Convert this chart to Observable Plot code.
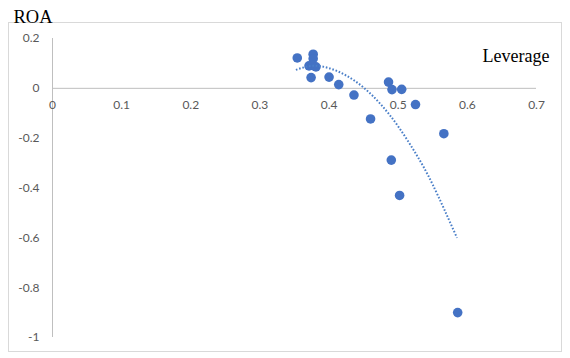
<!DOCTYPE html>
<html><head><meta charset="utf-8">
<script src="https://cdn.jsdelivr.net/npm/d3@7"></script>
<script src="https://cdn.jsdelivr.net/npm/@observablehq/plot@0.6"></script>
<style>body{margin:0;background:#fff}</style>
</head><body><div id="chart"></div>
<script>
// Scatter data: Leverage (x) vs ROA (y)
const leverage = [0.354,0.377,0.377,0.371,0.376,0.381,0.374,0.400,0.414,0.436,0.460,0.486,0.491,0.505,0.525,0.490,0.502,0.566,0.586];
const roa      = [0.122,0.137,0.119,0.090,0.092,0.086,0.043,0.045,0.015,-0.027,-0.123,0.025,-0.005,-0.004,-0.065,-0.288,-0.430,-0.182,-0.900];
// Polynomial trendline
const trendLeverage = [0.352,0.375,0.400,0.425,0.450,0.475,0.500,0.525,0.550,0.585];
const trendROA      = [0.074,0.090,0.081,0.051,0.003,-0.065,-0.153,-0.260,-0.387,-0.600];
// Tick labels
const xTicks = [0,0.1,0.2,0.3,0.4,0.5,0.6,0.7];
const xTickLabels = ["0","0.1","0.2","0.3","0.4","0.5","0.6","0.7"];
const yTicks = [0.2,0,-0.2,-0.4,-0.6,-0.8,-1];
const yTickLabels = ["0.2","0","-0.2","-0.4","-0.6","-0.8","-1"];
const yTitle = "ROA";
const xTitle = "Leverage";

const points = leverage.map((x,i)=>({x, y: roa[i]}));
const trend = trendLeverage.map((x,i)=>({x, y: trendROA[i]}));
const blue = "#4472C4";
const axisGray = "#bfbfbf";
const labelGray = "#595959";
const tickFont = "Lato, 'Liberation Sans', sans-serif";

const svg = Plot.plot({
  width: 570, height: 358,
  marginLeft: 52, marginRight: 34, marginTop: 38, marginBottom: 21,
  x: {domain: [0, 0.7], axis: null},
  y: {domain: [-1, 0.2], axis: null},
  style: {background: "#fff", overflow: "visible"},
  marks: [
    Plot.ruleY([0], {x1: xTicks[0], x2: xTicks[xTicks.length-1], stroke: axisGray, strokeWidth: 1}),
    Plot.ruleX([0], {y1: yTicks[yTicks.length-1], y2: yTicks[0], stroke: axisGray, strokeWidth: 1}),
    Plot.text(xTicks, {x: d => d, y: () => 0, text: (d,i) => xTickLabels[i], dy: 17, fill: labelGray, fontSize: 12, fontFamily: tickFont}),
    Plot.text(yTicks, {x: () => 0, y: d => d, text: (d,i) => yTickLabels[i], dx: -13, textAnchor: "end", fill: labelGray, fontSize: 12, fontFamily: tickFont}),
    Plot.dot(points, {x: "x", y: "y", r: 4.8, fill: blue, stroke: "none"}),
    Plot.line(trend, {x: "x", y: "y", curve: "natural", stroke: "#4a7fc8", strokeWidth: 2, strokeDasharray: "1.6,1.8", strokeLinecap: "butt"}),
    Plot.text([yTitle], {frameAnchor: "top-left", text: d => d, dx: -39, dy: -29, textAnchor: "start", fill: "#000", fontSize: 18.5, fontFamily: "'Liberation Serif', 'Times New Roman', serif"}),
    Plot.text([xTitle], {frameAnchor: "top-right", text: d => d, dx: 13, dy: 11, textAnchor: "end", fill: "#000", fontSize: 18, fontFamily: "'Liberation Serif', 'Times New Roman', serif"})
  ]
});
d3.select(svg).insert("rect", ":first-child")
  .attr("x", 8.5).attr("y", 22.5).attr("width", 553).attr("height", 329)
  .attr("fill", "none").attr("stroke", "#d9d9d9");
document.getElementById("chart").appendChild(svg);
</script>
</body></html>
